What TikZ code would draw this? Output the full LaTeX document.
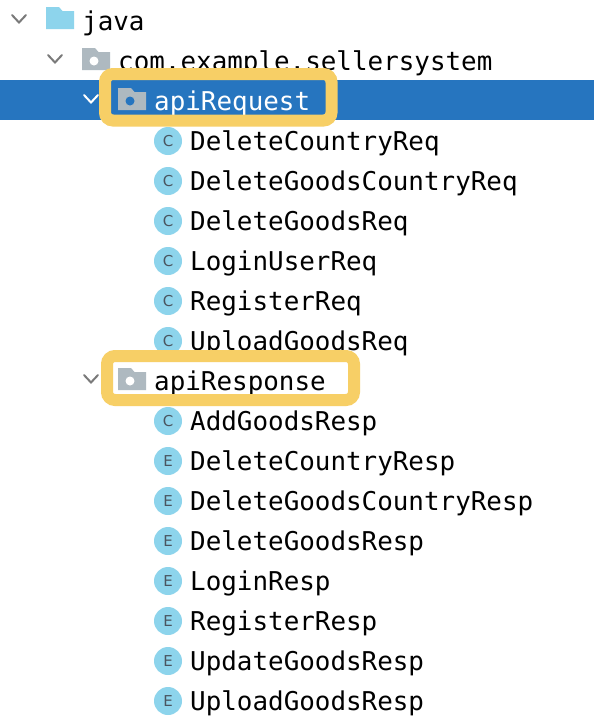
\documentclass[tikz,border=0pt]{standalone}
\usepackage{fontspec}
\setmonofont{DejaVu Sans Mono}
\setsansfont{DejaVu Sans}
\definecolor{selblue}{HTML}{2675BF}
\definecolor{hlyellow}{HTML}{F7CF66}
\definecolor{iconblue}{HTML}{8DD4EC}
\definecolor{foldgrey}{HTML}{AEB9C0}
\definecolor{letter}{HTML}{4A5560}
\definecolor{chev}{HTML}{7A7A7A}
\tikzset{
  lbl/.style={anchor=base west,inner sep=0pt,font=\fontsize{25.9}{26}\selectfont\ttfamily,text=black},
  badge/.style={circle,fill=iconblue,minimum size=28pt,inner sep=0pt,text=letter,font=\fontsize{15}{15}\selectfont\sffamily},
  chevron/.style={draw=chev,line width=2pt,line cap=round,line join=miter},
  hlbox/.style={draw=hlyellow,line width=12pt,rounded corners=8pt},
}
\newcommand{\folder}[4]{% x, y(top), colour, dot colour
  \fill[#3] (#1,#2) -- ++(13,0) -- ++(3.5,4) -- ++(11.5,0) -- ++(0,18) -- ++(-28,0) -- cycle;
  \ifx&#4&\else\fill[#4] (#1+12,#2+13) circle (4.5);\fi
}
\begin{document}
\begin{tikzpicture}[x=1pt,y=-1pt]
\useasboundingbox (0,0) rectangle (594,726);
\fill[white] (0,0) rectangle (594,726);
\fill[selblue] (0,80) rectangle (594,120);

% tree rows
\node[lbl] (java) at (82,30) {java};
\node[lbl] (pkg) at (118,70) {com.example.sellersystem};
\node[lbl,text=white] (req) at (154,110) {apiRequest};
\node[lbl] (resp) at (154,390) {apiResponse};

\foreach \n/\y/\l/\t in {
 a/141/C/DeleteCountryReq, b/181/C/DeleteGoodsCountryReq, c/221/C/DeleteGoodsReq,
 d/261/C/LoginUserReq, e/301/C/RegisterReq, f/341/C/UploadGoodsReq,
 g/421/C/AddGoodsResp, h/461/E/DeleteCountryResp, i/501/E/DeleteGoodsCountryResp,
 j/541/E/DeleteGoodsResp, k/581/E/LoginResp, l/621/E/RegisterResp,
 m/661/E/UpdateGoodsResp, n/701/E/UploadGoodsResp}{
  \node[badge] (ic\n) at (168,\y) {\l};
  \node[lbl] (tx\n) at (190,\y+9.5) {\t};
}

% folders
\folder{46}{7}{iconblue}{}
\folder{82}{48}{foldgrey}{white}
\folder{118}{88}{foldgrey}{selblue}
\folder{118}{368}{foldgrey}{white}

% chevrons
\draw[chevron] (12,15) -- (19,22.5) -- (26,15);
\draw[chevron] (48,55) -- (55,62.5) -- (62,55);
\draw[chevron,draw=white] (84,95) -- (91,102.5) -- (98,95);
\draw[chevron] (84,375) -- (91,382.5) -- (98,375);

% highlight frames
\draw[hlbox] (105,74) rectangle (331.5,120.5);
\draw[hlbox] (107,356) rectangle (354,400);
\end{tikzpicture}
\end{document}
